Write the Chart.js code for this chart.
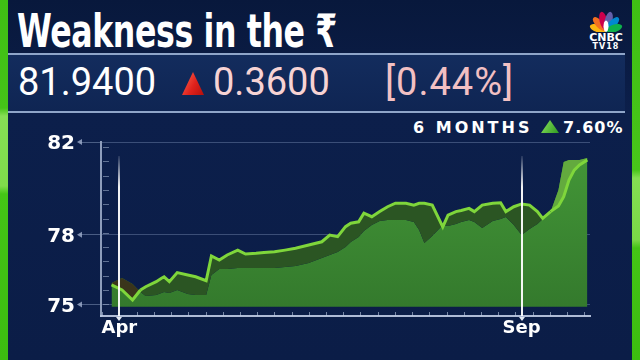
<!DOCTYPE html>
<html>
<head>
<meta charset="utf-8">
<script src="https://cdn.jsdelivr.net/npm/chart.js@4.4.0/dist/chart.umd.min.js"></script>
<style>
  html, body { margin: 0; padding: 0; }
  body {
    width: 640px; height: 360px; overflow: hidden; position: relative;
    background: linear-gradient(to bottom, #08183c 0px, #0a1b42 52px, #0c1f4b 112px, #0b1d47 360px);
    font-family: 'DejaVu Sans', sans-serif;
  }
  .strip { position: absolute; top: 0; width: 8px; height: 360px; }
  #stripL { left: 0; background: linear-gradient(to bottom, #3fbf14 0px, #45c418 108px, #86df55 116px, #7fdb4b 186px, #44c416 194px, #3cbd10 360px); }
  #stripR { right: 0; background: linear-gradient(to bottom, #3fbf14 0px, #48c51a 170px, #84de52 178px, #7ad847 240px, #44c416 248px, #3cbd10 360px); }
  #title {
    position: absolute; left: 17px; top: 8px; color: #fff;
    font: bold 46px/46px 'Liberation Sans Narrow', 'DejaVu Sans Condensed', 'DejaVu Sans', sans-serif;
    letter-spacing: -0.5px; white-space: nowrap; transform-origin: 0 0;
  }
  #box {
    position: absolute; left: 8px; top: 53px; width: 617px; height: 56px;
    border-top: 2px solid #8fa5c9; border-bottom: 2px solid #8fa5c9;
    background: linear-gradient(to bottom, #132c5d, #0f2553);
  }
  .num { position: absolute; top: 63px; font: 38px/38px Roboto, 'DejaVu Sans', sans-serif; white-space: nowrap; }
  #price { left: 18px; color: #ffffff; }
  #chg { left: 213px; color: #f7d3d4; }
  #pct { left: 385px; color: #f2c0c3; letter-spacing: 1px; }
  #triR {
    position: absolute; left: 182px; top: 72px; width: 22px; height: 23px;
    clip-path: polygon(50% 0, 100% 100%, 0 100%);
    background: linear-gradient(120deg, #ff6a55 0%, #e0221c 55%, #b40f0c 100%);
  }
  #logo { position: absolute; left: 587px; top: 6px; }
  #cnbc { position: absolute; left: 586px; top: 33px; width: 40px; text-align: center; color: #fff; font: bold 11px/10px 'DejaVu Sans', sans-serif; }
  #tv18 { position: absolute; left: 586px; top: 43px; width: 40px; text-align: center; color: #fff; font: bold 8px/8px 'DejaVu Sans', sans-serif; letter-spacing: 1px; }
  #months { position: absolute; left: 413px; top: 120px; color: #fff; font: bold 16px/16px 'DejaVu Sans', sans-serif; letter-spacing: 3px; white-space: nowrap; }
  #triG {
    position: absolute; left: 541px; top: 120px; width: 18px; height: 13px;
    clip-path: polygon(50% 0, 100% 100%, 0 100%);
    background: linear-gradient(120deg, #8be35c, #2f9a22);
  }
  #six { position: absolute; left: 563px; top: 120px; color: #fff; font: bold 16px/16px 'DejaVu Sans', sans-serif; letter-spacing: 1px; white-space: nowrap; }
  #wrap { position: absolute; left: 0; top: 112px; width: 640px; height: 248px; }
</style>
</head>
<body>
<div id="stripL" class="strip"></div>
<div id="stripR" class="strip"></div>
<div id="title">Weakness in the ₹</div>
<div id="box"></div>
<div id="price" class="num">81.9400</div>
<div id="triR"></div>
<div id="chg" class="num">0.3600</div>
<div id="pct" class="num">[0.44%]</div>
<svg id="logo" width="38" height="26" viewBox="0 0 38 27">
  <g transform="translate(19,26)">
    <ellipse rx="4" ry="8.5" transform="rotate(-72) translate(0,-9)" fill="#fcb711"/>
    <ellipse rx="4" ry="9" transform="rotate(-43) translate(0,-10)" fill="#f37021"/>
    <ellipse rx="4" ry="9.5" transform="rotate(-14) translate(0,-11)" fill="#cc004c"/>
    <ellipse rx="4" ry="9.5" transform="rotate(14) translate(0,-11)" fill="#6460aa"/>
    <ellipse rx="4" ry="9" transform="rotate(43) translate(0,-10)" fill="#0089d0"/>
    <ellipse rx="4" ry="8.5" transform="rotate(72) translate(0,-9)" fill="#0db14b"/>
    <ellipse rx="2.6" ry="6" transform="translate(0,-5)" fill="#fff"/>
  </g>
</svg>
<div id="cnbc">CNBC</div>
<div id="tv18">TV18</div>
<div id="months">6 MONTHS</div>
<div id="triG"></div>
<div id="six">7.60%</div>
<div id="wrap"><canvas id="chart"></canvas></div>
<script>
// squeeze the headline to the width it has on screen
var t = document.getElementById('title');
t.style.transform = 'scaleX(' + (320 / t.offsetWidth) + ')';

// days counted from 1 April
var days = [-3, 1, 5, 8, 10, 14, 16, 17, 19, 22, 26, 29, 33, 35, 38, 41, 45, 48, 52, 55,
            59, 63, 67, 72, 77, 80, 83, 86, 88, 91, 93, 96, 99, 102, 105, 109, 112, 114, 116, 119,
            123, 125, 128, 130, 133, 135, 138, 142, 145, 147, 150, 153, 156, 159, 161, 164, 167, 169, 171, 173,
            175, 178];
// front edge of the ribbon (bright line)
var rate = [75.84, 75.62, 75.19, 75.62, 75.76, 75.98, 76.13, 76.19, 75.98, 76.37, 76.27, 76.19, 76.02, 77.09, 76.91, 77.13, 77.34, 77.17, 77.20, 77.24,
            77.27, 77.34, 77.42, 77.56, 77.70, 77.99, 77.92, 78.35, 78.50, 78.56, 78.93, 78.78, 79.00, 79.21, 79.36, 79.36, 79.28, 79.36, 79.36, 79.28,
            78.34, 78.85, 79.00, 79.05, 79.14, 79.00, 79.28, 79.36, 79.38, 79.00, 79.21, 79.33, 79.28, 79.00, 78.71, 79.00, 79.24, 79.64, 80.36, 80.79,
            81.01, 81.22];
// back edge of the ribbon (top of the filled area)
var rateBack = [75.92, 76.14, 75.88, 75.53, 75.36, 75.41, 75.49, 75.53, 75.49, 75.62, 75.45, 75.41, 75.41, 76.27, 76.53, 76.53, 76.57, 76.57, 76.57, 76.57,
                76.57, 76.61, 76.66, 76.78, 77.00, 77.13, 77.26, 77.47, 77.69, 77.91, 78.16, 78.42, 78.59, 78.64, 78.64, 78.64, 78.55, 78.21, 77.65, 77.95,
                78.42, 78.38, 78.47, 78.55, 78.64, 78.55, 78.29, 78.59, 78.68, 78.77, 78.42, 77.99, 78.25, 78.47, 78.68, 78.98, 79.93, 81.14, 81.22, 81.22,
                81.22, 81.31];
var yTicks = [75, 78, 82];
var xTicks = [0, 153];
var xTickLabels = ['Apr', 'Sep'];

var minorY = 0.617;
var minorX = 6.55;

var deco = {
  id: 'deco',
  afterDatasetsDraw: function(chart) {
    var ctx = chart.ctx, a = chart.chartArea, x = chart.scales.x;
    ctx.save();
    xTicks.forEach(function(d) {
      var px = Math.round(x.getPixelForValue(d));
      var g = ctx.createLinearGradient(0, a.top + 14, 0, a.top + 45);
      g.addColorStop(0, 'rgba(255,255,255,0.1)');
      g.addColorStop(1, 'rgba(255,255,255,0.95)');
      ctx.strokeStyle = g;
      ctx.lineWidth = 2;
      ctx.beginPath();
      ctx.moveTo(px, a.top + 14);
      ctx.lineTo(px, a.bottom);
      ctx.stroke();
    });
    ctx.restore();
  },
  afterDraw: function(chart) {
    var ctx = chart.ctx, a = chart.chartArea, x = chart.scales.x, y = chart.scales.y;
    ctx.save();
    ctx.strokeStyle = 'rgba(165,182,210,0.55)';
    ctx.lineWidth = 1;
    for (var v = yTicks[0]; v <= y.max + 0.01; v += minorY) {
      var py = Math.round(y.getPixelForValue(v)) + 0.5;
      ctx.beginPath(); ctx.moveTo(a.left + 2, py); ctx.lineTo(a.left + 8, py); ctx.stroke();
    }
    yTicks.forEach(function(t) {
      var py = y.getPixelForValue(t);
      ctx.fillStyle = 'rgba(160,175,205,0.8)';
      ctx.beginPath();
      ctx.moveTo(a.left - 24, py); ctx.lineTo(a.left - 19, py - 3); ctx.lineTo(a.left - 19, py + 3);
      ctx.fill();
    });
    ctx.strokeStyle = 'rgba(190,205,230,0.6)';
    for (var d = xTicks[0] - minorX; d >= x.min; d -= minorX) {
      var p = Math.round(x.getPixelForValue(d)) + 0.5;
      ctx.beginPath(); ctx.moveTo(p, a.bottom - 4); ctx.lineTo(p, a.bottom); ctx.stroke();
    }
    for (var e = xTicks[0] + minorX; e <= x.max; e += minorX) {
      var q = Math.round(x.getPixelForValue(e)) + 0.5;
      ctx.beginPath(); ctx.moveTo(q, a.bottom - 4); ctx.lineTo(q, a.bottom); ctx.stroke();
    }
    xTicks.forEach(function(d) {
      var px = Math.round(x.getPixelForValue(d));
      ctx.fillStyle = '#e3e9f4';
      ctx.beginPath();
      ctx.moveTo(px - 3, a.bottom + 1); ctx.lineTo(px + 3, a.bottom + 1); ctx.lineTo(px, a.bottom + 5);
      ctx.fill();
    });
    ctx.restore();
  }
};

new Chart(document.getElementById('chart'), {
  type: 'line',
  data: {
    datasets: [{
      label: 'USD/INR',
      data: days.map(function(d, i) { return {x: d, y: rate[i]}; }),
      borderColor: '#7fd63b',
      borderWidth: 3,
      pointRadius: 0,
      tension: 0,
      fill: 1,
      backgroundColor: '#2b5523',
      segment: {
        backgroundColor: function(c) {
          if (c.p0.parsed.x >= 164) return '#63aa3e';
          if (c.p0.parsed.x < 8) return '#3a351b';
          return '#2b5523';
        }
      }
    }, {
      label: 'depth',
      data: days.map(function(d, i) { return {x: d, y: rateBack[i]}; }),
      borderWidth: 0,
      borderColor: 'rgba(0,0,0,0)',
      pointRadius: 0,
      tension: 0,
      fill: {value: 74.9},
      backgroundColor: function(c) {
        var a = c.chart.chartArea;
        if (!a) return '#3b8a30';
        var g = c.chart.ctx.createLinearGradient(0, a.top, 0, a.bottom);
        g.addColorStop(0, '#449838');
        g.addColorStop(1, '#33782c');
        return g;
      }
    }]
  },
  options: {
    responsive: true,
    maintainAspectRatio: false,
    animation: false,
    layout: {padding: {top: 30, right: 50, left: 0, bottom: 0}},
    plugins: {legend: {display: false}, tooltip: {enabled: false}},
    scales: {
      x: {
        type: 'linear',
        min: -7,
        max: 179,
        afterBuildTicks: function(s) { s.ticks = xTicks.map(function(v) { return {value: v}; }); },
        afterFit: function(s) { s.height = 44; },
        grid: {color: 'rgba(0,0,0,0)', drawTicks: false},
        border: {color: 'rgba(205,215,240,0.85)', width: 2},
        ticks: {
          autoSkip: false, maxRotation: 0, padding: 2, color: '#ffffff',
          font: {family: 'DejaVu Sans', weight: 'bold', size: 18},
          callback: function(v, i) { return xTickLabels[i]; }
        }
      },
      y: {
        type: 'linear',
        min: 74.5,
        max: 82,
        z: 1,
        afterBuildTicks: function(s) { s.ticks = yTicks.map(function(v) { return {value: v}; }); },
        afterFit: function(s) { s.width = 101; },
        grid: {color: 'rgba(150,170,205,0.35)', lineWidth: 1, tickLength: 21, tickColor: 'rgba(150,170,205,0.45)'},
        border: {color: 'rgba(185,200,225,0.75)', width: 2},
        ticks: {
          padding: 5, color: '#ffffff', labelOffset: 2,
          font: {family: 'DejaVu Sans', weight: 'bold', size: 20}
        }
      }
    }
  },
  plugins: [deco]
});
</script>
</body>
</html>
